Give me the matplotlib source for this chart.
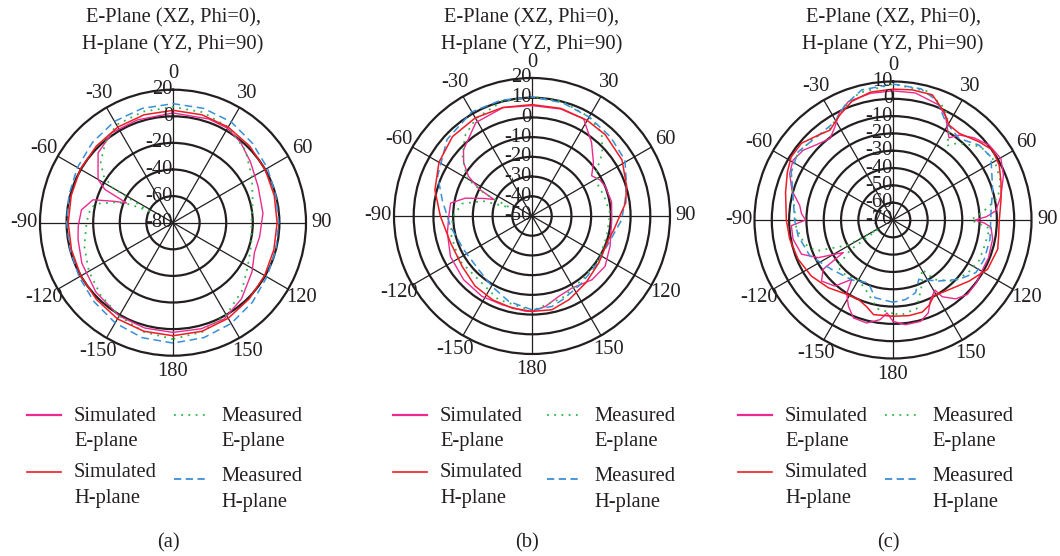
import matplotlib.pyplot as plt
import numpy as np
from matplotlib.lines import Line2D

plt.rcParams['font.family'] = ['Liberation Serif', 'DejaVu Serif']

# ---- panel (a) patterns (dB vs angle in degrees) ----
a_sim_e_ang = [-180, -165, -150, -132, -114, -100, -92, -82, -74, -70, -67, -64, -60, -56, -47, -34, -19,
               0, 19, 30, 40, 52, 67, 84, 99, 110, 122, 138, 152, 165, 180]
a_sim_e_db = [2.5, 2, 1, -2, -5, -7.5, -8.7, -10.5, -17.5, -33, -42, -23, -15, -12, -3, 1.8, 1.8,
              2.5, 2.5, 2, -1, -6, -10.5, -12, -14, -14.8, -10, -3, 2, 2.5, 2.5]
a_sim_h_ang = [-180, -165, -150, -135, -120, -105, -90, -75, -60, -45, -30, -15,
               0, 15, 30, 45, 60, 75, 90, 105, 120, 135, 150, 165, 180]
a_sim_h_db = [5, 4.5, 3.5, 1.5, 0, -1, -1.2, -0.8, 0.5, 1.5, 3, 4,
              4.5, 4, 3, 1.5, 0, -1.2, -1.7, -1.5, -0.5, 1, 3, 4.5, 5]
a_meas_e_ang = [-180, -165, -150, -135, -120, -105, -90, -80, -76, -70, -67, -64, -60, -56, -50, -40, -30, -15,
                0, 15, 30, 45, 60, 75, 90, 105, 120, 135, 150, 165, 180]
a_meas_e_db = [7.5, 5, 1, -3, -7, -11, -15, -17, -21, -35, -45, -60, -28, -17, -9, -1, 5, 6.5,
               7, 6, 3, -3, -11.5, -18, -21, -19, -15, -7, 0, 5, 7.5]
a_meas_h_ang = [-180, -165, -150, -135, -120, -105, -90, -75, -60, -45, -30, -15,
                0, 15, 30, 45, 60, 75, 90, 105, 120, 135, 150, 165, 180]
a_meas_h_db = [10.5, 9.5, 7, 4, 1.5, 0, 0, 1, 3, 5.5, 8, 9,
               9.5, 9, 7.5, 4.5, 2, 0, -0.5, 0, 1.5, 4.5, 7.5, 9.5, 10.5]

# ---- panel (b) ----
b_sim_e_ang = [-180, -176, -161.4, -148, -133, -116.5, -101.5, -90, -81, -75, -70, -66.5, -63, -58, -52, -46,
               -31, -15, 0, 15, 28, 39, 49, 56, 62, 68, 80, 92.9, 111.4, 124.6, 136.8, 151, 161.7,
               171.6, 180]
b_sim_e_db = [-1.6, -1.6, -2.5, -2, -2.6, -3.8, -6.2, -7.8, -8.2, -15, -24, -29, -20, -12, -6, -1.7,
              5.3, 6.9, 6, 6.2, 5.8, -2, -8.7, -13.5, -11, -9.9, -9, -9.5, -7.5, -5, -5.6, -8.2, -7,
              -3.6, -1.6]
b_sim_h_ang = [-180, -168, -155, -141, -126, -108, -90, -75, -60, -45, -30, -15,
               0, 15, 30, 42, 58, 72, 82, 90, 100, 107, 125, 141, 156, 168, 180]
b_sim_h_db = [-1.6, -2.2, -3, -4.2, -6.3, -6.5, -3.5, 1, 4.5, 7, 7.5, 7,
              6.5, 6.5, 6, 5.5, 3.8, 0.4, -2, -5.5, -8, -9.4, -8.6, -6.5, -3.6, -1.4, -1.6]
b_meas_e_ang = [-180, -158, -140, -121, -102, -90, -80, -73, -69, -65, -60, -50, -40, -30, -15,
                0, 15, 30, 40, 48, 55, 65, 75, 88, 105.4, 123.4, 140.3, 160, 180]
b_meas_e_db = [-2, -4.3, -7.8, -6.7, -7.8, -10, -14, -24, -38, -24, -12, -4, 3, 7, 10,
               10.5, 10, 8, 5, -2, -10, -13, -12, -10.4, -10.7, -9.6, -9, -5.6, -2]
b_meas_h_ang = [-180, -164.8, -150.5, -135.4, -116.5, -97.4, -80, -67, -48, -30, -15,
                0, 15, 30, 45, 59, 72, 80, 92.5, 109.6, 128.7, 145, 160, 167.6, 180]
b_meas_h_db = [-2.4, -5.1, -8.9, -11.6, -11.4, -8.3, -3.8, 2, 8, 11, 10.8,
               10.4, 9.5, 8, 6.5, 5, 0.4, -2, -4.5, -8.8, -9, -7.4, -4.8, -3, -2.4]

# ---- panel (c) ----
c_sim_e_ang = [-180, -176.3, -172.7, -165.7, -158, -152.6, -147.8, -145.2, -138.7, -130.5, -125.2, -123.2,
               -116.7, -110.5, -100.8, -93.2, -90, -86, -81.2, -73.7, -65.9, -59.1, -52.2, -45.4, -37.7,
               -31.9, -26.9, -20.6, -10, 0, 10, 21.8, 27, 30.7, 34.3, 37.9, 44.6, 52.2, 60.4, 68, 77.2,
               84.8, 88, 90, 92, 94.3, 100.9, 111.5, 118.8, 126.9, 135, 141.5, 147.3, 149.1, 154.7,
               159.2, 164.8, 173.2, 180]
c_sim_e_db = [-11.5, -16.2, -12, -8.6, -9, -14, -19.8, -28.3, -19.2, -15.7, -20.6, -35.7,
              -21.6, -13.6, -11.2, -11.2, -19.5, -17, -15.5, -9.2, -4.6, -2.7, -4.3, -8, -10.5,
              -6.6, -1, 3.1, 4.3, 4.6, 4.5, 1.5, -3, -8.5, -12.6, -7.8, -3.3, 0.4, 1.7, -1.2, -6,
              -10.3, -16, -22.5, -17, -13.2, -11.4, -10.7, -10.9, -9.7, -9.2, -11.8, -17.3, -22.8, -19.2,
              -12.6, -9.3, -9.1, -11.5]
c_sim_h_ang = [-180, -168.4, -163.2, -156.5, -148, -136.3, -124.5, -112.5, -100.5, -90, -75.5, -65.6,
               -58.2, -50, -41.4, -35, -32.2, -26.8, -19.2, -10, 0, 8.4, 17.4, 25.2, 30.5, 37.4, 47.8,
               55, 62.8, 70.7, 79, 90, 98.5, 105.6, 117.5, 128.7, 143.5, 151.5, 157.2, 162.4, 170.6, 180]
c_sim_h_db = [-14.4, -14.2, -17.6, -20, -19.4, -15.9, -12.8, -10.7, -9.3, -8.4, -5.9, -3,
              -0.8, -1, -4.7, -6.6, -5.2, -2, 2.5, 5, 5.6, 6, 5.8, -0.8, -6.3, -7, -2.8,
              0.3, -1, -3.9, -6.4, -8.6, -8.3, -7.2, -8.4, -13.6, -18.9, -20.4, -16.4, -14.2, -14, -14.4]
c_meas_e_ang = [-180, -170, -160, -150, -140, -130, -125, -122, -119, -112, -105, -95, -85, -75, -65, -55,
                -45, -35, -25, -15, 0, 15, 25, 32, 36, 40, 50, 60, 70, 78, 85, 90, 95, 105, 115, 125,
                135, 145, 150, 155, 165, 175, 180]
c_meas_e_db = [-16, -18, -26, -30, -28, -28, -40, -60, -40, -22, -17, -14, -13, -10, -5, -3,
               -4, -6, 0, 6, 8.5, 7, 1, -8, -17, -12, -4, -2, -4, -8, -18, -25, -14, -15, -15, -17,
               -20, -28, -37, -30, -17, -15, -16]
c_meas_h_ang = [-180, -167, -158.7, -145.5, -128.8, -113.3, -99.4, -90, -76.2, -64.7, -54.3, -43.8, -30.6,
                -22.6, -13.5, 0, 12, 20, 28.2, 39, 49, 57.2, 72.6, 85.5, 101.2, 113.3, 122.4, 131.9,
                143, 156.5, 162.8, 171, 180]
c_meas_h_db = [-22.5, -23.9, -31, -28, -24.5, -17.7, -14.4, -13.2, -10.5, -5, -2.5, -4.7, -4.1,
               2, 7.3, 8.5, 7.5, 3.5, -5.6, -9.4, -4.1, -2.7, -9.7, -13.2, -12.9, -12.6, -13.3, -18.7,
               -25.9, -32.6, -26, -23.5, -22.5]

theta_labels = ['0', '30', '60', '90', '120', '150', '180', '-150', '-120', '-90', '-60', '-30']
title_lines = ['E-Plane (XZ, Phi=0),', 'H-plane (YZ, Phi=90)']
legend_names = [['Simulated', 'E-plane'], ['Simulated', 'H-plane'],
                ['Measured', 'E-plane'], ['Measured', 'H-plane']]

ink = '#231f20'
pink = '#ec2a8e'
red = '#ee1c25'
green = '#2eb44a'
blue = '#3a8fd8'
fs = 14.8

W, H = 1060, 556
fig = plt.figure(figsize=(W / 100, H / 100), dpi=100)


def fx(x):
    return x / W


def fy(y):
    return 1 - y / H


def draw_panel(cx, cy, rad, rmin, rmax, step, curves, leg_x, tag):
    ax = fig.add_axes([fx(cx - rad), fy(cy + rad), 2 * rad / W, 2 * rad / H], projection='polar')
    ax.set_theta_zero_location('N')
    ax.set_theta_direction(-1)
    ax.set_ylim(rmin, rmax)

    ax.set_xticks(np.radians(np.arange(0, 360, 30)))
    ax.set_xticklabels(theta_labels)
    ax.tick_params(axis='x', pad=1, labelsize=fs, colors=ink)
    ax.set_yticks(np.arange(rmin + step, rmax, step))
    ax.set_yticklabels([])
    ax.xaxis.grid(True, color=ink, lw=0.9)
    ax.yaxis.grid(True, color=ink, lw=1.6)
    ax.spines['polar'].set_linewidth(1.6)
    ax.spines['polar'].set_color(ink)

    for lev in np.arange(rmin, rmax + 1, step):
        ax.text(0, lev, '%d' % lev, ha='right', va='center', fontsize=fs, color=ink)

    for ang, db, col, ls, lw in curves:
        ax.plot(np.radians(ang), db, color=col, ls=ls, lw=lw)

    fig.text(fx(cx), fy(22.7), title_lines[0], ha='center', va='baseline', fontsize=fs, color=ink)
    fig.text(fx(cx), fy(49.3), title_lines[1], ha='center', va='baseline', fontsize=fs, color=ink)

    # legend: two columns, two-line labels
    x0, x1 = leg_x
    styles = [(pink, '-', 1.6), (red, '-', 1.2), (green, (0, (1, 3)), 1.3), (blue, (0, (4, 2.5)), 1.3)]
    handle_y = [415, 472, 415, 479]
    base_y = [(421, 446), (477, 503), (421, 446), (481, 507)]
    for i, (col, ls, lw) in enumerate(styles):
        hx = x0 if i < 2 else x1
        fig.add_artist(Line2D([fx(hx), fx(hx + 34)], [fy(handle_y[i])] * 2, transform=fig.transFigure,
                              color=col, ls=ls, lw=lw))
        for line, by in zip(legend_names[i], base_y[i]):
            fig.text(fx(hx + 47), fy(by), line, ha='left', va='baseline', fontsize=fs, color=ink)

    fig.text(fx(cx - 5), fy(547), tag, ha='center', va='baseline', fontsize=fs, color=ink)
    return ax


def curve_set(se_a, se_d, sh_a, sh_d, me_a, me_d, mh_a, mh_d):
    return [(se_a, se_d, pink, '-', 1.0),
            (me_a, me_d, green, (0, (1, 3)), 1.3),
            (mh_a, mh_d, blue, (0, (5, 3)), 1.1),
            (sh_a, sh_d, red, '-', 1.1)]


draw_panel(173, 222.7, 133, -80, 20, 20,
           curve_set(a_sim_e_ang, a_sim_e_db, a_sim_h_ang, a_sim_h_db,
                     a_meas_e_ang, a_meas_e_db, a_meas_h_ang, a_meas_h_db),
           (27, 174), '(a)')
draw_panel(532, 216, 138, -50, 20, 10,
           curve_set(b_sim_e_ang, b_sim_e_db, b_sim_h_ang, b_sim_h_db,
                     b_meas_e_ang, b_meas_e_db, b_meas_h_ang, b_meas_h_db),
           (393, 547), '(b)')
draw_panel(893, 220, 138.5, -70, 10, 10,
           curve_set(c_sim_e_ang, c_sim_e_db, c_sim_h_ang, c_sim_h_db,
                     c_meas_e_ang, c_meas_e_db, c_meas_h_ang, c_meas_h_db),
           (738, 885), '(c)')

fig.savefig('out.png', dpi=100)
